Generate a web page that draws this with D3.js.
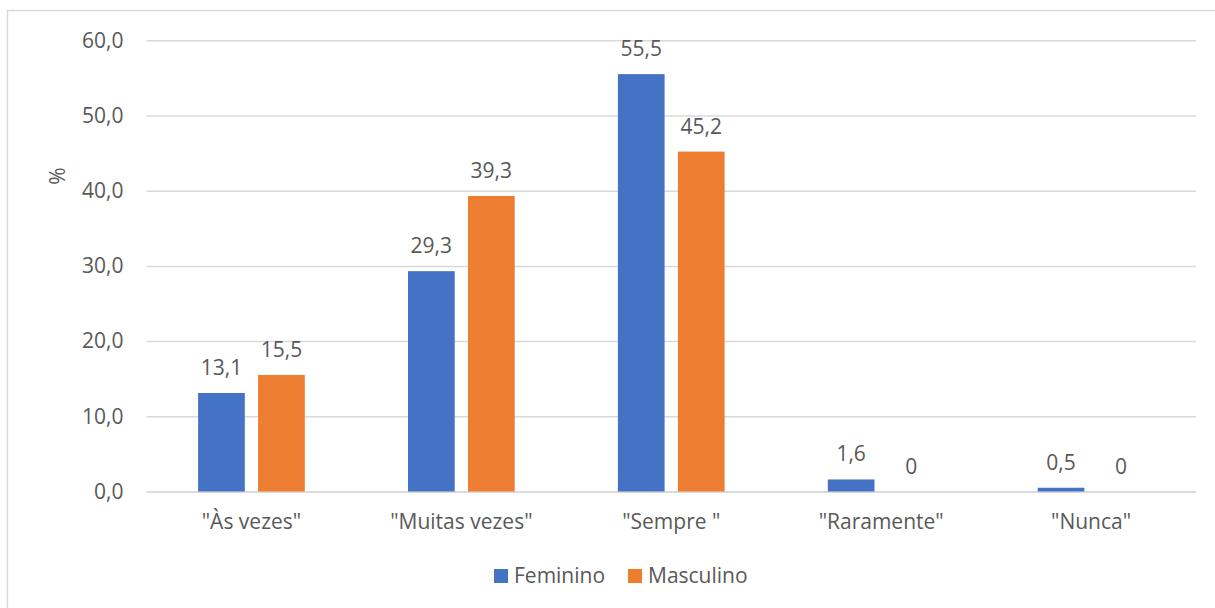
<!DOCTYPE html>
<html>
<head>
<meta charset="utf-8">
<script src="https://cdn.jsdelivr.net/npm/d3@7"></script>
<style>
html,body{margin:0;padding:0;background:#fff;}
svg{display:block;}
text{font-family:"Open Sans",sans-serif;fill:#595959;}
</style>
</head>
<body>
<svg id="chart" width="1215" height="608"></svg>
<script>
const categories = ['"Às vezes"', '"Muitas vezes"', '"Sempre "', '"Raramente"', '"Nunca"'];
const series = ["Feminino", "Masculino"];
const feminino = [13.1, 29.3, 55.5, 1.6, 0.5];
const masculino = [15.5, 39.3, 45.2, 0, 0];
const yTicks = [0, 10, 20, 30, 40, 50, 60];
const colors = ["#4472C4", "#ED7D31"];
const valuesBySeries = [feminino, masculino];

const FS = 21;
const svg = d3.select("#chart");
const W = 1215, H = 608;
const plot = {left: 146.5, right: 1196, top: 40.3, bottom: 491.5};

// chart border (top and left visible)
svg.append("path")
  .attr("d", `M7.5,${H} L7.5,10.5 L${W},10.5`)
  .attr("fill", "none").attr("stroke", "#d9d9d9").attr("stroke-width", 1.5);

const x0 = d3.scaleBand().domain(categories).range([plot.left, plot.right]);
const innerP = 13.3 / 60;
const groupW = 60 * (2 - innerP);
const x1 = d3.scaleBand().domain(series)
  .range([x0.bandwidth() / 2 - groupW / 2, x0.bandwidth() / 2 + groupW / 2])
  .paddingInner(innerP);
const y = d3.scaleLinear().domain([0, 60]).range([plot.bottom, plot.top]);

const fmt = v => v.toFixed(1).replace(".", ",");

// gridlines
const yAxis = d3.axisLeft(y).tickValues(yTicks).tickFormat(fmt)
  .tickSize(-(plot.right - plot.left)).tickPadding(23);
const gy = svg.append("g").attr("transform", `translate(${plot.left},0)`).call(yAxis);
gy.select(".domain").remove();
gy.selectAll(".tick line").attr("stroke", "#d9d9d9").attr("stroke-width", 1.5);
gy.selectAll(".tick text").attr("font-size", FS).attr("fill", "#595959")
  .attr("font-family", '"Open Sans",sans-serif');

// x axis
const xAxis = d3.axisBottom(x0).tickSize(0).tickPadding(23);
const gx = svg.append("g").attr("transform", `translate(0,${plot.bottom})`).call(xAxis);
gx.select(".domain").attr("stroke", "#d9d9d9").attr("stroke-width", 1.5);
gx.selectAll(".tick text").attr("font-size", FS).attr("fill", "#595959")
  .attr("font-family", '"Open Sans",sans-serif');

// bars
series.forEach((s, si) => {
  const g = svg.append("g");
  const data = categories.map((c, i) => ({c, v: valuesBySeries[si][i]}));
  g.selectAll("rect").data(data).enter().append("rect")
    .attr("x", d => x0(d.c) + x1(s))
    .attr("y", d => y(d.v))
    .attr("width", x1.bandwidth())
    .attr("height", d => y(0) - y(d.v))
    .attr("fill", colors[si]);
  g.selectAll("text").data(data).enter().append("text")
    .attr("x", d => x0(d.c) + x1(s) + x1.bandwidth() / 2)
    .attr("y", d => y(d.v) - 18)
    .attr("text-anchor", "middle")
    .attr("font-size", FS)
    .text(d => d.v === 0 ? "0" : fmt(d.v));
});

// y title
svg.append("text")
  .attr("transform", "translate(65,176) rotate(-90)")
  .attr("text-anchor", "middle")
  .attr("font-size", FS)
  .text("%");

// legend
const legend = svg.append("g");
const legendX = [494, 628];
series.forEach((s, si) => {
  legend.append("rect").attr("x", legendX[si]).attr("y", 569)
    .attr("width", 14).attr("height", 14).attr("fill", colors[si]);
  legend.append("text").attr("x", legendX[si] + 20).attr("y", 583)
    .attr("font-size", FS).text(s);
});
</script>
</body>
</html>
